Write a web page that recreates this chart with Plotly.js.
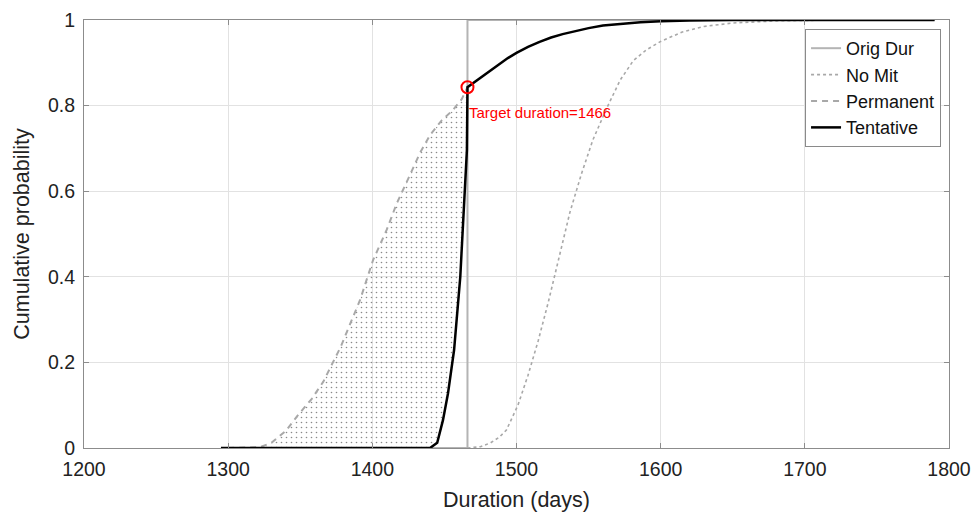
<!DOCTYPE html>
<html>
<head>
<meta charset="utf-8">
<script src="https://cdn.plot.ly/plotly-3.0.1.min.js"></script>
<style>html,body{margin:0;padding:0;background:#fff;}#chart{width:975px;height:512px;}</style>
</head>
<body>
<div id="chart"></div>
<script>
// ---- data ----
const origDurX = [1295, 1466, 1466, 1790];
const origDurY = [0, 0, 1, 1];

const noMitX = [1466, 1475, 1482, 1488, 1493, 1501, 1508, 1515, 1522, 1530, 1537, 1545, 1553, 1563, 1572, 1581, 1590, 1600, 1615, 1630, 1650, 1680, 1720, 1790];
const noMitY = [0, 0.003, 0.012, 0.025, 0.042, 0.10, 0.17, 0.25, 0.34, 0.45, 0.55, 0.64, 0.72, 0.797, 0.86, 0.905, 0.93, 0.95, 0.972, 0.985, 0.993, 0.998, 1, 1];

const permX = [1300, 1322, 1330, 1340, 1348, 1358, 1366, 1378, 1391.5, 1400.5, 1410, 1417, 1425, 1433, 1440, 1448, 1456, 1462, 1466];
const permY = [0, 0.002, 0.012, 0.04, 0.075, 0.115, 0.155, 0.236, 0.346, 0.439, 0.51, 0.572, 0.63, 0.689, 0.731, 0.765, 0.79, 0.815, 0.843];

const tentX = [1295, 1400, 1440, 1445, 1449, 1452.5, 1456.7, 1461, 1464, 1465.6, 1466, 1470, 1476, 1482, 1488, 1494, 1500, 1508, 1516, 1524, 1532, 1540, 1550, 1560, 1572, 1586, 1600, 1620, 1650, 1700, 1790];
const tentY = [0, 0, 0, 0.012, 0.065, 0.128, 0.229, 0.40, 0.58, 0.696, 0.843, 0.853, 0.868, 0.883, 0.897, 0.911, 0.923, 0.937, 0.949, 0.959, 0.967, 0.974, 0.981, 0.987, 0.991, 0.995, 0.997, 0.999, 1, 1, 1];

const targetDuration = 1466;
const targetProb = 0.843;

const xTicks = [1200, 1300, 1400, 1500, 1600, 1700, 1800];
const yTicks = [0, 0.2, 0.4, 0.6, 0.8, 1];
const yTickText = ['0', '0.2', '0.4', '0.6', '0.8', '1'];

// ---- shaded region between Permanent and Tentative (built from the arrays) ----
const shadeX = [], shadeY = [];
for (let i = 0; i < permX.length; i++) { shadeX.push(permX[i]); shadeY.push(permY[i]); }
for (let i = tentX.length - 1; i >= 0; i--) {
  if (tentX[i] <= targetDuration && tentX[i] >= 1440) { shadeX.push(tentX[i]); shadeY.push(tentY[i]); }
}
shadeX.push(permX[0]); shadeY.push(0);

const FONT = 'Liberation Sans, Arial, sans-serif';

const traces = [
  {x: shadeX, y: shadeY, type: 'scatter', mode: 'none', fill: 'toself',
   fillcolor: 'rgba(0,0,0,0)',
   fillpattern: {shape: '.', fgcolor: '#8a8a8a', bgcolor: 'rgba(255,255,255,0)', size: 5, solidity: 0.08},
   showlegend: false, hoverinfo: 'skip'},
  {x: origDurX, y: origDurY, type: 'scatter', mode: 'lines', name: 'Orig Dur',
   line: {color: '#b4b4b4', width: 2}},
  {x: noMitX, y: noMitY, type: 'scatter', mode: 'lines', name: 'No Mit',
   line: {color: '#a8a8a8', width: 1.6, dash: 'dot'}},
  {x: permX, y: permY, type: 'scatter', mode: 'lines', name: 'Permanent',
   line: {color: '#a8a8a8', width: 2, dash: '6px,5px'}},
  {x: tentX, y: tentY, type: 'scatter', mode: 'lines', name: 'Tentative',
   line: {color: '#000', width: 2.5}},
  {x: [targetDuration], y: [targetProb], type: 'scatter', mode: 'markers', showlegend: false,
   marker: {symbol: 'circle-open', size: 12, color: '#ff0000', line: {width: 2, color: '#ff0000'}}}
];

const layout = {
  width: 975, height: 512,
  margin: {l: 84, r: 26, t: 20, b: 64},
  paper_bgcolor: '#fff', plot_bgcolor: '#fff',
  font: {family: FONT, size: 19, color: '#222'},
  showlegend: true,
  legend: {x: 0.9908, y: 0.979, xanchor: 'right', yanchor: 'top',
           bgcolor: '#fff', bordercolor: '#8a8a8a', borderwidth: 1,
           font: {family: FONT, size: 18, color: '#111'}, tracegroupgap: 0},
  xaxis: {range: [1200, 1800], tickvals: xTicks, ticktext: xTicks.map(String),
          showgrid: true, gridcolor: '#e2e2e2', gridwidth: 1, zeroline: false,
          showline: true, linecolor: '#8c8c8c', linewidth: 1, mirror: 'ticks',
          ticks: 'inside', ticklen: 5, tickcolor: '#8c8c8c', ticklabelstandoff: 4,
          tickfont: {family: FONT, size: 19.5, color: '#222'},
          title: {text: 'Duration (days)', font: {family: FONT, size: 21.5, color: '#222'}, standoff: 12}},
  yaxis: {range: [0, 1], tickvals: yTicks, ticktext: yTickText,
          showgrid: true, gridcolor: '#e2e2e2', gridwidth: 1, zeroline: false,
          showline: true, linecolor: '#8c8c8c', linewidth: 1, mirror: 'ticks',
          ticks: 'inside', ticklen: 5, tickcolor: '#8c8c8c', ticklabelstandoff: 4,
          tickfont: {family: FONT, size: 19.5, color: '#222'},
          title: {text: 'Cumulative probability', font: {family: FONT, size: 21.5, color: '#222'}, standoff: 12}},
  annotations: [{x: targetDuration, y: targetProb, xref: 'x', yref: 'y',
                 text: 'Target duration=' + targetDuration, showarrow: false,
                 xanchor: 'left', yanchor: 'middle', xshift: 0, yshift: -25,
                 font: {family: FONT, size: 15, color: '#ff0000'}}]
};

Plotly.newPlot('chart', traces, layout, {displayModeBar: false, staticPlot: true});
</script>
</body>
</html>
